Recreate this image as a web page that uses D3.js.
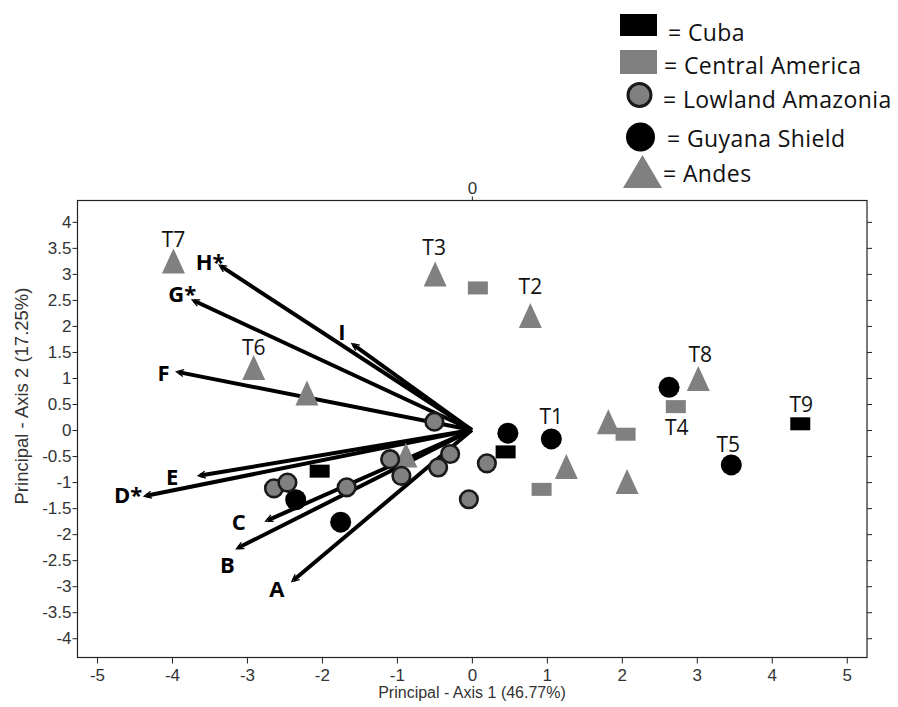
<!DOCTYPE html>
<html>
<head>
<meta charset="utf-8">
<script src="https://cdn.jsdelivr.net/npm/d3@7"></script>
<style>
  body { margin: 0; background: #fff; }
  svg { display: block; }
  .tick text { font-family: "Liberation Sans Narrow", "Arial Narrow", sans-serif; font-size: 17px; fill: #333; }
  .lbl { font-family: "Open Sans", sans-serif; }
</style>
</head>
<body>
<div id="chart"></div>
<script>
// groupes : [x, y, etiquette]
var cuba = [[4.38, 0.12, "T9"], [0.45, -0.42, ""], [-2.03, -0.79, ""]];
var centralAmerica = [[0.08, 2.73, ""], [2.72, 0.45, "T4"], [2.05, -0.08, ""], [0.93, -1.14, ""]];
var lowlandAmazonia = [[-0.50, 0.16], [-1.09, -0.56], [-0.94, -0.88], [-0.29, -0.46], [-0.45, -0.72],
  [0.20, -0.64], [-0.04, -1.33], [-1.67, -1.10], [-2.64, -1.12], [-2.46, -1.01]];
var guyanaShield = [[0.48, -0.06, ""], [1.06, -0.17, "T1"], [2.63, 0.82, ""], [3.46, -0.67, "T5"],
  [-2.35, -1.34, ""], [-1.75, -1.77, ""]];
var andes = [[-3.98, 3.25, "T7"], [-0.49, 3.00, "T3"], [0.78, 2.20, "T2"], [-2.91, 1.20, "T6"],
  [-2.20, 0.71, ""], [3.02, 0.99, "T8"], [1.82, 0.16, ""], [-0.88, -0.48, ""], [1.26, -0.70, ""], [2.07, -0.99, ""]];
// vecteurs (variables)
var vectors = [["H*", -3.37, 3.17], ["G*", -3.73, 2.50], ["I", -1.60, 1.66], ["F", -3.94, 1.12],
  ["E", -3.65, -0.88], ["D*", -4.37, -1.27], ["C", -2.75, -1.75], ["B", -3.14, -2.28], ["A", -2.40, -2.91]];
var xTicks = [-5, -4, -3, -2, -1, 0, 1, 2, 3, 4, 5];
var yTicks = [-4, -3.5, -3, -2.5, -2, -1.5, -1, -0.5, 0, 0.5, 1, 1.5, 2, 2.5, 3, 3.5, 4];
var legendItems = ["= Cuba", "= Central America", "= Lowland Amazonia", "= Guyana Shield", "= Andes"];
var xTitle = "Principal - Axis 1 (46.77%)", yTitle = "Principal - Axis 2 (17.25%)";

var width = 898, height = 707;
var frame = {left: 77.5, right: 867, top: 200.5, bottom: 657.5};
var x = d3.scaleLinear().domain([-5.26, 5.27]).range([frame.left, frame.right]);
var y = d3.scaleLinear().domain([4.41, -4.37]).range([frame.top, frame.bottom]);

// placement des etiquettes (decalage en px)
var tOffset = {T1: [0, -15], T2: [0, -22], T3: [-1, -19], T4: [1, 28], T5: [-3, -13],
  T6: [0, -13], T7: [0, -14], T8: [2, -17], T9: [1, -12]};
var vOffset = {"H*": [-9, -3], "G*": [-10, -6], "I": [-10, -12], "F": [-13, 1], "E": [-26, 1],
  "D*": [-16, -1], "C": [-27, 1], "B": [-9, 16], "A": [-15, 8]};

var svg = d3.select("#chart").append("svg").attr("width", width).attr("height", height);

// cadre
svg.append("rect").attr("x", frame.left).attr("y", frame.top)
  .attr("width", frame.right - frame.left).attr("height", frame.bottom - frame.top)
  .attr("fill", "none").attr("stroke", "#222").attr("stroke-width", 1.2);

function minor(a, b, step) {
  return d3.range(Math.round(a / step), Math.round(b / step) + 1).map(function(i) { return +(i * step).toFixed(2); });
}
var fmt = function(d) { return d; };

var gx = svg.append("g").attr("transform", "translate(0," + frame.bottom + ")");
gx.call(d3.axisBottom(x).tickValues(minor(-5.2, 5.2, 0.2)).tickSize(4).tickFormat(""));
gx.call(d3.axisBottom(x).tickValues(xTicks).tickSize(6).tickPadding(5).tickFormat(fmt));
gx.selectAll(".domain").remove();

var gy = svg.append("g").attr("transform", "translate(" + frame.left + ",0)");
gy.call(d3.axisLeft(y).tickValues(minor(-4.3, 4.4, 0.1)).tickSize(2).tickFormat(""));
gy.call(d3.axisLeft(y).tickValues(yTicks).tickSize(5).tickPadding(1).tickFormat(fmt));
gy.selectAll(".domain").remove();

var gr = svg.append("g").attr("transform", "translate(" + frame.right + ",0)");
gr.call(d3.axisRight(y).tickValues(minor(-4.3, 4.4, 0.1)).tickSize(2).tickFormat(""));
gr.call(d3.axisRight(y).tickValues(yTicks).tickSize(5).tickFormat(""));
gr.selectAll(".domain").remove();

var gt = svg.append("g").attr("transform", "translate(0," + frame.top + ")");
gt.call(d3.axisTop(x).tickValues([0]).tickSize(4).tickPadding(3).tickFormat(fmt));
gt.selectAll(".domain").remove();

svg.selectAll(".tick line").attr("stroke", "#222");

svg.append("text").attr("x", 472).attr("y", 698).attr("text-anchor", "middle")
  .style("font-family", "'Liberation Sans Narrow', 'Arial Narrow', sans-serif").style("font-size", "16px").attr("fill", "#333")
  .text(xTitle);
svg.append("text").attr("transform", "translate(28,396) rotate(-90)").attr("text-anchor", "middle")
  .style("font-family", "'Liberation Sans Narrow', 'Arial Narrow', sans-serif").style("font-size", "18.5px").attr("fill", "#333")
  .text(yTitle);

// vecteurs
var gv = svg.append("g");
vectors.forEach(function(v) {
  var x0 = x(0), y0 = y(0), x1 = x(v[1]), y1 = y(v[2]);
  var a = Math.atan2(y1 - y0, x1 - x0), L = Math.hypot(x1 - x0, y1 - y0);
  gv.append("line").attr("x1", x0).attr("y1", y0)
    .attr("x2", x0 + Math.cos(a) * (L - 2)).attr("y2", y0 + Math.sin(a) * (L - 2))
    .attr("stroke", "#000").attr("stroke-width", 4);
  var h = 8, w = 0.45;
  gv.append("path")
    .attr("d", "M" + (x1 - h * Math.cos(a - w)) + "," + (y1 - h * Math.sin(a - w)) +
      "L" + x1 + "," + y1 + "L" + (x1 - h * Math.cos(a + w)) + "," + (y1 - h * Math.sin(a + w)))
    .attr("fill", "none").attr("stroke", "#000").attr("stroke-width", 1.3);
  var o = vOffset[v[0]];
  gv.append("text").attr("class", "lbl").attr("x", x1 + o[0]).attr("y", y1 + o[1])
    .attr("text-anchor", "middle").attr("dy", "0.36em")
    .style("font-size", "22px").style("font-weight", "bold").text(v[0]);
});

// symboles
var grey = "#808080";
function tri(w, h) { return "M0," + (-h / 2) + "L" + (w / 2) + "," + (h / 2) + "L" + (-w / 2) + "," + (h / 2) + "Z"; }
var gp = svg.append("g");
function rects(data, fill) {
  gp.selectAll(null).data(data).enter().append("rect")
    .attr("x", function(d) { return x(d[0]) - 10; }).attr("y", function(d) { return y(d[1]) - 6.5; })
    .attr("width", 20).attr("height", 13).attr("fill", fill);
}
rects(cuba, "#000");
rects(centralAmerica, grey);
gp.selectAll(null).data(andes).enter().append("path")
  .attr("d", tri(23, 25)).attr("fill", grey)
  .attr("transform", function(d) { return "translate(" + x(d[0]) + "," + y(d[1]) + ")"; });
gp.selectAll(null).data(guyanaShield).enter().append("circle")
  .attr("cx", function(d) { return x(d[0]); }).attr("cy", function(d) { return y(d[1]); })
  .attr("r", 10.5).attr("fill", "#000");
gp.selectAll(null).data(lowlandAmazonia).enter().append("circle")
  .attr("cx", function(d) { return x(d[0]); }).attr("cy", function(d) { return y(d[1]); })
  .attr("r", 8.8).attr("fill", grey).attr("stroke", "#1a1a1a").attr("stroke-width", 2.6);

// etiquettes T1..T9
var labelled = cuba.concat(centralAmerica, guyanaShield, andes).filter(function(d) { return d[2]; });
svg.append("g").selectAll("text").data(labelled).enter().append("text")
  .attr("class", "lbl").attr("text-anchor", "middle").style("font-size", "21px").attr("fill", "#111")
  .attr("x", function(d) { return x(d[0]) + tOffset[d[2]][0]; })
  .attr("y", function(d) { return y(d[1]) + tOffset[d[2]][1]; })
  .text(function(d) { return d[2]; });

// legende
var lg = svg.append("g");
lg.append("rect").attr("x", 620).attr("y", 14).attr("width", 37).attr("height", 22).attr("fill", "#000");
lg.append("rect").attr("x", 620).attr("y", 50).attr("width", 37).attr("height", 24).attr("fill", grey);
lg.append("circle").attr("cx", 639.5).attr("cy", 95).attr("r", 11.5).attr("fill", grey).attr("stroke", "#1a1a1a").attr("stroke-width", 3);
lg.append("circle").attr("cx", 640.5).attr("cy", 137).attr("r", 14.5).attr("fill", "#000");
lg.append("path").attr("d", tri(39, 33)).attr("transform", "translate(642.5,171.5)").attr("fill", grey);
var lx = [668, 664, 663, 667, 663], ly = [33, 66, 100, 139, 174];
lg.selectAll("text").data(legendItems).enter().append("text").attr("class", "lbl")
  .attr("x", function(d, i) { return lx[i]; }).attr("y", function(d, i) { return ly[i]; })
  .attr("dy", "0.36em").style("font-size", "23px").style("letter-spacing", "0.4px").attr("fill", "#111")
  .text(function(d) { return d; });
</script>
</body>
</html>
